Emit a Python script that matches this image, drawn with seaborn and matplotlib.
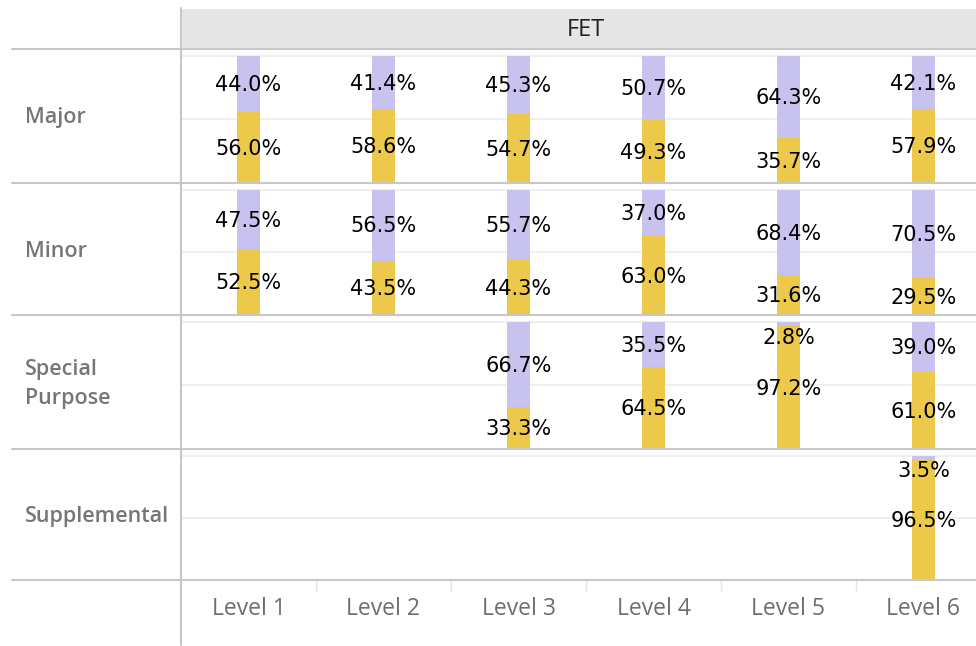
import numpy as np
import pandas as pd
import seaborn as sns
import matplotlib.pyplot as plt
from matplotlib.lines import Line2D
from matplotlib.patches import Rectangle

sns.set_theme(style="white")
plt.rcParams['font.family'] = ['DejaVu Sans']

# data (share of each level, yellow = bottom segment)
levels = ['Level 1', 'Level 2', 'Level 3', 'Level 4', 'Level 5', 'Level 6']
row_names = ['Major', 'Minor', 'Special\nPurpose', 'Supplemental']

major_levels = ['Level 1', 'Level 2', 'Level 3', 'Level 4', 'Level 5', 'Level 6']
major_yellow = [56.0, 58.6, 54.7, 49.3, 35.7, 57.9]
major_purple = [44.0, 41.4, 45.3, 50.7, 64.3, 42.1]

minor_levels = ['Level 1', 'Level 2', 'Level 3', 'Level 4', 'Level 5', 'Level 6']
minor_yellow = [52.5, 43.5, 44.3, 63.0, 31.6, 29.5]
minor_purple = [47.5, 56.5, 55.7, 37.0, 68.4, 70.5]

special_levels = ['Level 3', 'Level 4', 'Level 5', 'Level 6']
special_yellow = [33.3, 64.5, 97.2, 61.0]
special_purple = [66.7, 35.5, 2.8, 39.0]

suppl_levels = ['Level 6']
suppl_yellow = [96.5]
suppl_purple = [3.5]

rows = [
    (major_levels, major_yellow, major_purple),
    (minor_levels, minor_yellow, minor_purple),
    (special_levels, special_yellow, special_purple),
    (suppl_levels, suppl_yellow, suppl_purple),
]

purple = '#c8c2ee'
yellow = '#ecc94b'
line_col = '#c8c8c8'
grid_col = '#efefef'

W, H = 976, 646
fig = plt.figure(figsize=(W / 100, H / 100), dpi=100)


def fx(px):
    return px / W


def fy(py):
    return 1 - py / H


# the pane runs a bit past the right edge of the picture (clipped view)
x0, x1 = 181, 991
row_edges = [49, 183, 315, 449, 580]

for i, (lv, yel, pur) in enumerate(rows):
    top, bot = row_edges[i], row_edges[i + 1]
    ax = fig.add_axes([fx(x0), fy(bot), fx(x1 - x0), (bot - top) / H])
    df = pd.DataFrame({'level': lv,
                       'yellow': np.array(yel) / 100,
                       'purple': np.array(pur) / 100})
    df['total'] = df['yellow'] + df['purple']
    ax.axhline(0.5, color=grid_col, lw=1.5, zorder=0)
    ax.axhline(1.0, color=grid_col, lw=1.5, zorder=0)
    sns.barplot(data=df, x='level', y='total', order=levels, color=purple,
                saturation=1, width=0.17, linewidth=0, ax=ax, zorder=2)
    sns.barplot(data=df, x='level', y='yellow', order=levels, color=yellow,
                saturation=1, width=0.17, linewidth=0, ax=ax, zorder=3)
    for _, r in df.iterrows():
        xi = levels.index(r['level'])
        y_yel = r['yellow'] / 2
        y_pur = min(r['yellow'] + r['purple'] / 2, 0.885)
        if r['yellow'] > 0.9:
            y_yel = min(y_yel, 0.54)
        ax.text(xi, y_yel - 0.01, f"{r['yellow'] * 100:.1f}%", ha='center',
                va='center', fontsize=15, color='black', zorder=5)
        ax.text(xi, y_pur - 0.01, f"{r['purple'] * 100:.1f}%", ha='center',
                va='center', fontsize=15, color='black', zorder=5)
    ax.set_xlim(-0.5, 5.5)
    ax.set_ylim(0, 1.055)
    ax.set_yticks([])
    ax.set_xlabel('')
    ax.set_ylabel('')
    for s in ax.spines.values():
        s.set_visible(False)
    if i == 3:
        ax.set_xticks(range(6))
        ax.set_xticklabels(levels, fontsize=16.5, color='#6e6e6e',
                           fontfamily='Open Sans')
        ax.tick_params(axis='x', which='major', length=0, pad=12)
        ax.set_xticks([0.5, 1.5, 2.5, 3.5, 4.5], minor=True)
        ax.tick_params(axis='x', which='minor', length=8, width=1,
                       color='#e4e4e4', bottom=True)
    else:
        ax.set_xticks([])
    # row label
    fig.text(fx(25), fy((top + bot) / 2 + 2), row_names[i], ha='left',
             va='center', fontsize=15.5, color='#767676', fontweight='semibold',
             fontfamily='Open Sans', linespacing=1.5)

# header band
fig.add_artist(Rectangle((fx(x0), fy(48)), fx(x1 - x0), (48 - 9) / H,
                         facecolor='#e6e6e6', edgecolor='none'))
fig.text(fx((x0 + x1) / 2), fy(30), 'FET', ha='center', va='center',
         fontsize=17, color='#222222', fontfamily='Open Sans')

# row separators and left divider
for yy in row_edges:
    fig.add_artist(Line2D([fx(12), 1], [fy(yy), fy(yy)], color=line_col, lw=1.5))
fig.add_artist(Line2D([fx(x0), fx(x0)], [fy(8), fy(645)], color=line_col, lw=1.5))

fig.savefig('out.png', dpi=100)
